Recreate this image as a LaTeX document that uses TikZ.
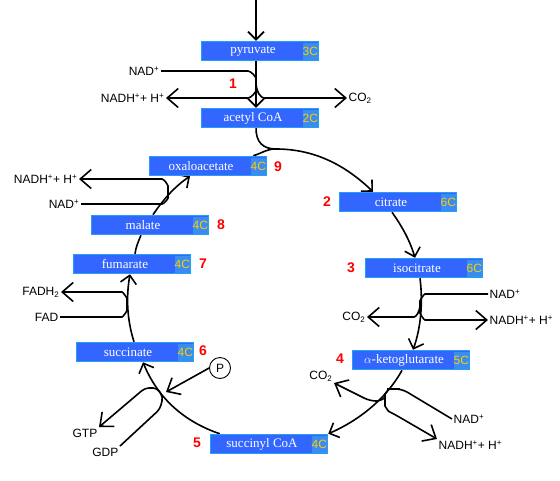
\documentclass[tikz,border=0pt]{standalone}
\usepackage{fontspec}
\newfontfamily\labfont{Liberation Sans}
\newfontfamily\cpdfont{Liberation Serif}
\usetikzlibrary{arrows.meta,backgrounds,calc}
\definecolor{boxblue}{HTML}{3366FF}
\definecolor{boxedge}{HTML}{22A0F5}
\definecolor{tagblue}{HTML}{3A8CF0}
\definecolor{tagyellow}{HTML}{FFCC00}

\begin{document}
\begin{tikzpicture}[x=1pt, y=-1pt,
  cmpd/.style={draw=boxedge, fill=boxblue, line width=1.5pt, inner sep=0pt, minimum height=19pt, text=white, font=\cpdfont\fontsize{13}{13}\selectfont},
  ctag/.style={fill=tagblue, inner sep=0pt, minimum width=15pt, minimum height=17pt, anchor=east, text=tagyellow, font=\labfont\fontsize{12}{12}\selectfont},
  lbl/.style={inner sep=1.5pt, font=\labfont\fontsize{12}{12}\selectfont},
  stepno/.style={text=red, inner sep=1pt, font=\labfont\bfseries\fontsize{14}{14}\selectfont},
  flow/.style={line width=1.6pt, -{Straight Barb[length=8pt,width=16pt]}},
  side/.style={line width=1.6pt, rounded corners=6pt},
  sidearr/.style={side, -{Straight Barb[length=11pt,width=19pt]}},
]
\useasboundingbox (0,0) rectangle (560,480);

% compounds of the cycle
\node[cmpd] (pyr) at (260,51) {\makebox[117pt][l]{\makebox[103pt]{pyruvate}}};
\node[ctag] (pyrC) at ([xshift=-1pt]pyr.east) {3C};
\node[cmpd] (acc) at (260,118) {\makebox[117pt][l]{\makebox[103pt]{acetyl CoA}}};
\node[ctag] (accC) at ([xshift=-1pt]acc.east) {2C};
\node[cmpd] (cit) at (398,202) {\makebox[117pt][l]{\makebox[103pt]{citrate}}};
\node[ctag] (citC) at ([xshift=-1pt]cit.east) {6C};
\node[cmpd] (iso) at (424,268) {\makebox[117pt][l]{\makebox[103pt]{isocitrate}}};
\node[ctag] (isoC) at ([xshift=-1pt]iso.east) {6C};
\node[cmpd] (akg) at (411,360) {\makebox[117pt][l]{\makebox[103pt]{$\alpha$-ketoglutarate}}};
\node[ctag] (akgC) at ([xshift=-1pt]akg.east) {5C};
\node[cmpd] (suy) at (269,444) {\makebox[117pt][l]{\makebox[103pt]{succinyl CoA}}};
\node[ctag] (suyC) at ([xshift=-1pt]suy.east) {4C};
\node[cmpd] (suc) at (135,352) {\makebox[117pt][l]{\makebox[103pt]{succinate}}};
\node[ctag] (sucC) at ([xshift=-1pt]suc.east) {4C};
\node[cmpd] (fum) at (132,264) {\makebox[117pt][l]{\makebox[103pt]{fumarate}}};
\node[ctag] (fumC) at ([xshift=-1pt]fum.east) {4C};
\node[cmpd] (mal) at (150,225) {\makebox[117pt][l]{\makebox[103pt]{malate}}};
\node[ctag] (malC) at ([xshift=-1pt]mal.east) {4C};
\node[cmpd] (oxa) at (208,166) {\makebox[117pt][l]{\makebox[103pt]{oxaloacetate}}};
\node[ctag] (oxaC) at ([xshift=-1pt]oxa.east) {4C};

% step numbers
\node[stepno] (s1) at (233,84) {1};
\node[stepno] (s2) at (327,202) {2};
\node[stepno] (s3) at (351,268) {3};
\node[stepno] (s4) at (340,359) {4};
\node[stepno] (s5) at (197,443) {5};
\node[stepno] (s6) at (203,351) {6};
\node[stepno] (s7) at (203,264) {7};
\node[stepno] (s8) at (221,225) {8};
\node[stepno] (s9) at (278,167) {9};

% side products
\node[lbl, anchor=east] (nad1) at (161,71) {NAD\textsuperscript{+}};
\node[lbl, anchor=east] (nadh1) at (166,98) {NADH\textsuperscript{+}+ H\textsuperscript{+}};
\node[lbl, anchor=west] (co21) at (347,98) {CO\textsubscript{2}};
\node[lbl, anchor=west] (nad3) at (488,294) {NAD\textsuperscript{+}};
\node[lbl, anchor=west] (nadh3) at (488,320) {NADH\textsuperscript{+}+ H\textsuperscript{+}};
\node[lbl, anchor=east] (co23) at (367,317) {CO\textsubscript{2}};
\node[lbl, anchor=west] (nad4) at (452,419) {NAD\textsuperscript{+}};
\node[lbl, anchor=north west] (nadh4) at (437,439) {NADH\textsuperscript{+}+ H\textsuperscript{+}};
\node[lbl, anchor=south east] (co24) at (334,383) {CO\textsubscript{2}};
\node[lbl, draw, circle, line width=0.9pt, minimum size=21pt, inner sep=0pt] (pho) at (220,368) {P};
\node[lbl, anchor=east] (gtp5) at (99,433) {GTP};
\node[lbl, anchor=east] (gdp5) at (120,452) {GDP};
\node[lbl, anchor=east] (fadh7) at (61,292) {FADH\textsubscript{2}};
\node[lbl, anchor=east] (fad7) at (60,317) {FAD};
\node[lbl, anchor=east] (nadh9) at (79,179) {NADH\textsuperscript{+}+ H\textsuperscript{+}};
\node[lbl, anchor=east] (nad9) at (81,204) {NAD\textsuperscript{+}};

\coordinate (top) at (256,0);
\coordinate (J) at (276,149);
\coordinate (pin) at (166,392);

\begin{scope}[on background layer]
% main cycle
\draw[flow] (top) -- (top |- pyr.north);
\draw[flow] (top |- pyr.south) -- (top |- acc.north);
\draw[side] (top |- acc.south) .. controls +(0,14) and +(-13,0) .. (J);
\draw[side] ([xshift=-14pt]oxa.north east) .. controls +(10,-3) and +(-10,0) .. (J);
\draw[flow] (J) .. controls +(38,0) and +(-28,-27) .. ([xshift=-25pt]cit.north);
\draw[flow] ([xshift=-6pt]cit.south) .. controls +(10,14) and +(-5,-17) .. ([xshift=-9pt]iso.north);
\draw[flow] ([xshift=-4pt]iso.south) .. controls +(3,24) and +(8,-22) .. ([xshift=2pt]akg.north);
\draw[flow] ([xshift=-9pt]akg.south) .. controls +(-16,29) and +(30,-13) .. (suy.north east);
\draw[flow] ([xshift=10pt]suy.north west) .. controls +(-38,-13) and +(14,34) .. ([xshift=8pt]suc.south);
\draw[flow] ([xshift=-1pt]suc.north) .. controls +(-7,-22) and +(-4,23) .. ([xshift=-2pt]fum.south);
\draw[side] ([xshift=3pt]fum.north) .. controls +(1,-7) and +(-3,7) .. ([xshift=-9pt]mal.south);
\draw[flow] ([xshift=3pt]mal.north) .. controls +(10,-15) and +(-15,10) .. ([xshift=-18pt]oxa.south);

% step 1
\draw[sidearr] (nad1.east) -- (242,71) .. controls (251,71) and (256,77) .. (256,84.5) .. controls (256,92) and (251,98) .. (242,98) -- (nadh1.east);
\draw[sidearr] (256,82) .. controls (256,92) and (261,98) .. (270,98) -- (co21.west);
% step 3
\draw[sidearr] (nad3.west) -- (431,294) .. controls (424,294) and (420,300) .. (420,307) .. controls (420,314) and (424,320) .. (431,320) -- (nadh3.west);
\draw[sidearr] (420,304) .. controls (420,312) and (416,317) .. (408,317) -- (co23.east);
% step 4
\draw[sidearr] (nad4.west) -- (402,389) -- (394,389) .. controls (389,389) and (385,394) .. (385,400) .. controls (385,406) and (388,411) .. (394,414) -- (nadh4.north west);
\draw[sidearr] (385,397) .. controls (383,400) and (378,401) .. (370,401) -- (co24.south east);
% step 5
\draw[sidearr, rounded corners=3pt] (pho.west) -- (202,372) -- (pin);
\draw[sidearr, rounded corners=4pt] (gdp5.north east) -- (160,409) -- (163,397) -- (157,388) -- (145,388) -- (gtp5.north east);
% step 7
\draw[sidearr] (fad7.east) -- (116,317) .. controls (123,317) and (127,311) .. (127,304.5) .. controls (127,298) and (123,292) .. (116,292) -- (fadh7.east);
% step 9
\draw[sidearr] (nad9.east) -- (156,204) .. controls (164,204) and (168,199) .. (168,192) .. controls (168,185) and (164,179) .. (156,179) -- (nadh9.east);
\end{scope}
\end{tikzpicture}
\end{document}
